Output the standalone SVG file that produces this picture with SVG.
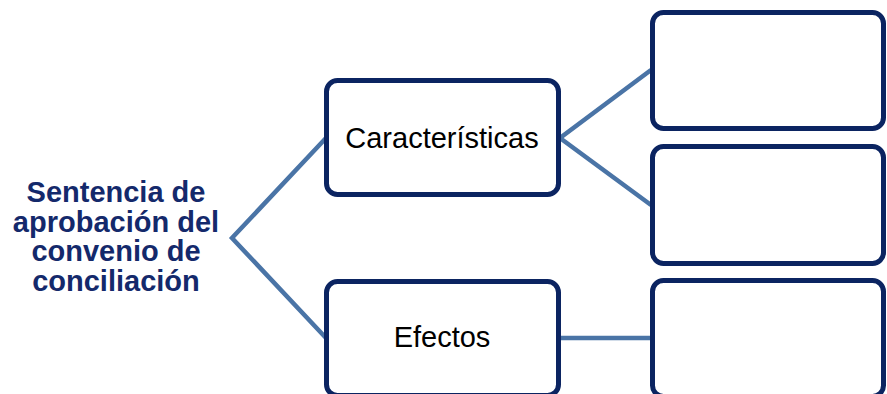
<svg xmlns="http://www.w3.org/2000/svg" width="887" height="394" viewBox="0 0 887 394">
<style>
.box{fill:#ffffff;stroke:#0b2461;stroke-width:5}
.lbl{font-family:"Liberation Sans",Arial,sans-serif;font-size:29px;fill:#000000;text-anchor:middle}
.title{font-family:"Liberation Sans",Arial,sans-serif;font-size:29px;font-weight:bold;fill:#14296b;text-anchor:middle}
.conn{fill:none;stroke:#4a74a6;stroke-width:4.5}
</style>
<rect width="887" height="394" fill="#ffffff"/>
<g id="connectors">
<polyline class="conn" points="326,138 232,238 326,338"/>
<polyline class="conn" points="651,70 560,138 651,205"/>
<line class="conn" x1="560" y1="338" x2="651" y2="338"/>
</g>
<g id="title">
<text class="title" x="116" y="202">Sentencia de</text>
<text class="title" x="116" y="231.5">aprobación del</text>
<text class="title" x="116" y="261">convenio de</text>
<text class="title" x="116" y="290.5">conciliación</text>
</g>
<g id="caracteristicas">
<rect class="box" x="326.5" y="80.5" width="232" height="114" rx="11"/>
<text class="lbl" x="442" y="147.5">Características</text>
</g>
<g id="efectos">
<rect class="box" x="326.5" y="281.5" width="232" height="114" rx="11"/>
<text class="lbl" x="442" y="347">Efectos</text>
</g>
<g id="box-r1">
<rect class="box" x="652.5" y="12.5" width="231" height="116" rx="11"/>
</g>
<g id="box-r2">
<rect class="box" x="652.5" y="146.5" width="231" height="117" rx="11"/>
</g>
<g id="box-r3">
<rect class="box" x="652.5" y="280.5" width="231" height="116" rx="11"/>
</g>
</svg>
